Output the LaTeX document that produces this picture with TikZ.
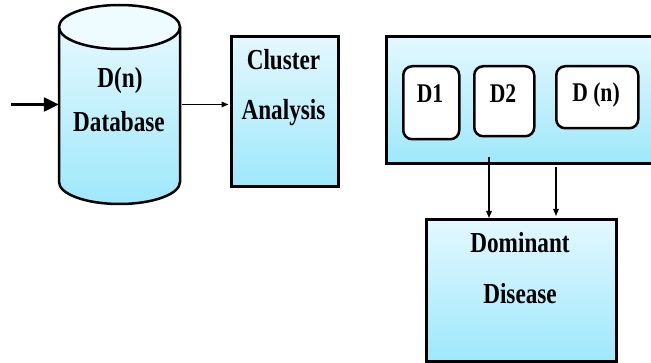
\documentclass[tikz,border=0pt]{standalone}
\usepackage{fontspec}
\setmainfont{Liberation Serif}
\usepackage{graphicx}
\usetikzlibrary{arrows.meta,shadows}
\definecolor{topc}{RGB}{228,248,254}
\definecolor{botc}{RGB}{158,232,251}
\definecolor{capc}{RGB}{238,251,255}
\newcommand{\biglbl}[1]{\scalebox{0.8}[1]{\fontsize{29}{30}\selectfont\bfseries #1}}
\newcommand{\smlbl}[1]{\scalebox{0.8}[1]{\fontsize{27}{28}\selectfont\bfseries #1}}
\begin{document}
\begin{tikzpicture}[x=1pt,y=1pt,
  boxstyle/.style={draw=black, line width=2.8pt, top color=topc, bottom color=botc,
    drop shadow={shadow xshift=1.5pt, shadow yshift=-2pt, opacity=0.25}, inner sep=0pt},
  dbox/.style={draw=black, fill=white, line width=2.5pt, rounded corners=9pt, inner sep=0pt},
  thinarrow/.style={draw=black, line width=1.2pt, -{Triangle[length=7pt,width=5.5pt]}},
  lbl/.style={anchor=base, inner sep=0pt}]
\useasboundingbox (0,0) rectangle (651,362);
\clip (0,0) rectangle (651,362);
% database cylinder
\path[top color=topc, bottom color=botc] (59,335) -- (59,180)
  arc[start angle=180, end angle=360, x radius=60.5, y radius=22] -- (180,335) -- cycle;
\draw[line width=2.5pt] (59,335) -- (59,180)
  arc[start angle=180, end angle=360, x radius=60.5, y radius=22] -- (180,335);
\filldraw[fill=capc, line width=2.5pt] (119.5,335) ellipse[x radius=60.5, y radius=22];
\node[minimum width=121pt, minimum height=199pt, inner sep=0pt] (db) at (119.5,257.5) {};
\node[lbl] (dbt1) at (120,274) {\biglbl{D(n)}};
\node[lbl] (dbt2) at (119,230) {\biglbl{Database}};
% cluster analysis
\node[boxstyle, minimum width=107pt, minimum height=150pt, anchor=north west] (cluster) at (230,327) {};
\node[lbl] (cl1) at (283.5,292) {\biglbl{Cluster}};
\node[lbl] (cl2) at (283.5,242) {\biglbl{Analysis}};
% group box
\node[boxstyle, minimum width=300pt, minimum height=127pt, anchor=north west] (group) at (385,327) {};
\node[dbox, minimum width=56pt, minimum height=73pt, anchor=north west] (d1) at (402,297) {};
\node[dbox, minimum width=60pt, minimum height=70pt, anchor=north west] (d2) at (473,297) {};
\node[dbox, minimum width=82pt, minimum height=62pt, anchor=north west] (dn) at (555,297) {};
\node[lbl] (d1t) at (430,259) {\smlbl{D1}};
\node[lbl] (d2t) at (503,259) {\smlbl{D2}};
\node[lbl] (dnt) at (596,260) {\smlbl{D (n)}};
% dominant disease
\node[boxstyle, minimum width=190pt, minimum height=142pt, anchor=north west] (dom) at (425,144) {};
\node[lbl] (do1) at (520,110) {\biglbl{Dominant}};
\node[lbl] (do2) at (520,59) {\biglbl{Disease}};
% connectors
\coordinate (src) at (11,257.5);
\draw[line width=2.4pt, -{Triangle[length=15pt,width=14pt]}] (src) -- (db.west);
\draw[thinarrow, shorten <=2pt, shorten >=1.5pt] (db.east) -- (db.east -| cluster.west);
\coordinate (a1) at (489,205);
\coordinate (a2) at (556,195);
\draw[thinarrow] (a1) -- (a1 |- dom.north);
\draw[thinarrow] (a2) -- ([yshift=2pt]a2 |- dom.north);
\end{tikzpicture}
\end{document}
